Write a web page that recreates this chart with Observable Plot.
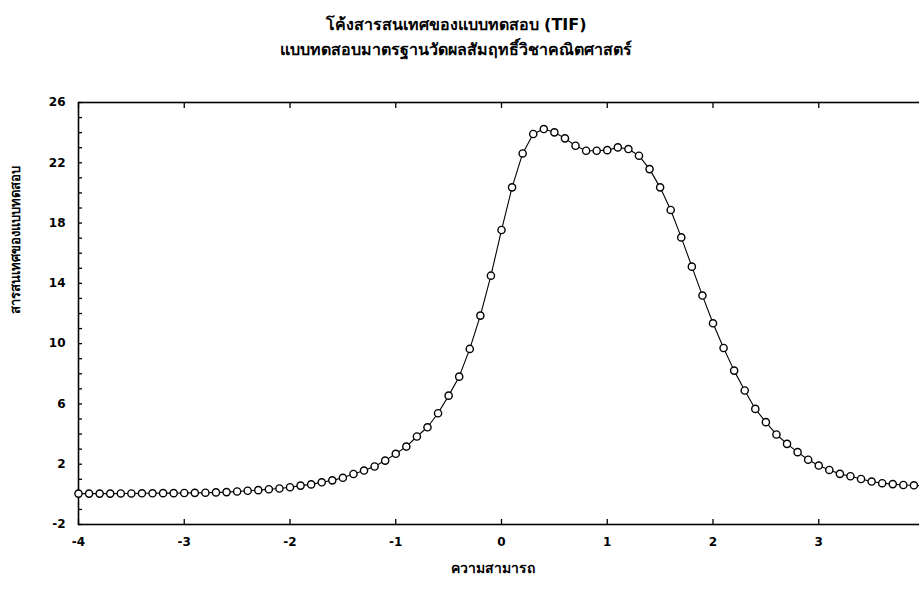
<!DOCTYPE html>
<html><head><meta charset="utf-8">
<script src="https://cdn.jsdelivr.net/npm/d3@7"></script>
<script src="https://cdn.jsdelivr.net/npm/@observablehq/plot@0.6"></script>
<style>
html,body{margin:0;padding:0;background:#fff;overflow:hidden;}
body{width:919px;height:591px;position:relative;font-family:"DejaVu Sans","Noto Sans",sans-serif;}
#head{height:62px;position:relative;}
#title,#subtitle{position:absolute;left:0;width:912px;text-align:center;font-weight:bold;font-size:16px;color:#000;white-space:nowrap;}
#title{top:12px;}
#subtitle{top:37px;}
#chart{width:919px;overflow:hidden;}
#chart svg{display:block;max-width:none !important;width:934px !important;height:529px !important;}
</style></head><body>
<div id="head"><div id="title"></div><div id="subtitle"></div></div>
<div id="chart"></div>
<script>
const titleText = "โค้งสารสนเทศของแบบทดสอบ (TIF)";
const subtitleText = "แบบทดสอบมาตรฐานวัดผลสัมฤทธิ์วิชาคณิตศาสตร์";
const xLabel = "ความสามารถ";
const yLabel = "สารสนเทศของแบบทดสอบ";

const theta = [-4.0,-3.9,-3.8,-3.7,-3.6,-3.5,-3.4,-3.3,-3.2,-3.1,-3.0,-2.9,-2.8,-2.7,-2.6,-2.5,-2.4,-2.3,-2.2,-2.1,
  -2.0,-1.9,-1.8,-1.7,-1.6,-1.5,-1.4,-1.3,-1.2,-1.1,-1.0,-0.9,-0.8,-0.7,-0.6,-0.5,-0.4,-0.3,-0.2,-0.1,
  0.0,0.1,0.2,0.3,0.4,0.5,0.6,0.7,0.8,0.9,1.0,1.1,1.2,1.3,1.4,1.5,1.6,1.7,1.8,1.9,
  2.0,2.1,2.2,2.3,2.4,2.5,2.6,2.7,2.8,2.9,3.0,3.1,3.2,3.3,3.4,3.5,3.6,3.7,3.8,3.9,4.0];
const information = [0.05,0.05,0.05,0.05,0.06,0.06,0.07,0.07,0.08,0.08,0.09,0.10,0.11,0.13,0.15,0.19,0.24,0.28,0.34,0.39,
  0.47,0.58,0.66,0.80,0.93,1.10,1.35,1.58,1.85,2.24,2.69,3.17,3.84,4.45,5.38,6.55,7.81,9.65,11.86,14.51,
  17.54,20.37,22.62,23.91,24.24,24.02,23.62,23.13,22.80,22.80,22.84,23.02,22.91,22.47,21.58,20.37,18.87,17.05,15.11,13.19,
  11.35,9.71,8.21,6.89,5.67,4.79,3.97,3.35,2.80,2.30,1.91,1.62,1.36,1.20,1.02,0.85,0.74,0.68,0.62,0.60,0.55];
const xTicks = [-4,-3,-2,-1,0,1,2,3,4];
const yTicks = [-2,2,6,10,14,18,22,26];
const yMinorTicks = [-2,-1,0,1,2,3,4,5,6,7,8,9,10,11,12,13,14,15,16,17,18,19,20,21,22,23,24,25,26];

document.getElementById("title").textContent = titleText;
document.getElementById("subtitle").textContent = subtitleText;

const data = theta.map((t, i) => ({theta: t, info: information[i]}));
const fmt = d => String(d);

const chart = Plot.plot({
  width: 934,
  height: 529,
  marginLeft: 78,
  marginRight: 10,
  marginTop: 40,
  marginBottom: 67,
  style: {fontFamily: "DejaVu Sans, sans-serif", fontSize: "12px", fontWeight: "bold", background: "#fff", color: "#000"},
  x: {domain: [-4, 4]},
  y: {domain: [-2, 26]},
  marks: [
    Plot.frame({stroke: "#000", strokeWidth: 1.6}),
    Plot.axisX(xTicks, {tickSize: 0, tickPadding: 13, label: null, tickFormat: fmt, fontWeight: "bold"}),
    Plot.axisX(xTicks, {tickSize: -5, text: null, label: null, strokeWidth: 1.3}),
    Plot.axisX(xTicks, {anchor: "top", tickSize: -5, text: null, label: null, strokeWidth: 1.3}),
    Plot.axisY(yTicks, {tickSize: 0, tickPadding: 13, label: null, tickFormat: fmt, fontWeight: "bold"}),
    Plot.axisY(yMinorTicks, {tickSize: -4, text: null, label: null, strokeWidth: 1.3}),
    Plot.line(data, {x: "theta", y: "info", stroke: "#000", strokeWidth: 1.1}),
    Plot.dot(data, {x: "theta", y: "info", r: 3.6, fill: "#fff", stroke: "#000", strokeWidth: 1.4}),
    Plot.text([xLabel], {frameAnchor: "bottom", dx: -9, dy: 48, fontSize: 14, fontWeight: "bold", fill: "#000"}),
    Plot.text([yLabel], {frameAnchor: "left", rotate: -90, dx: -63, fontSize: 13, fontWeight: "bold", fill: "#000"})
  ]
});
document.getElementById("chart").appendChild(chart);
</script>
</body></html>
